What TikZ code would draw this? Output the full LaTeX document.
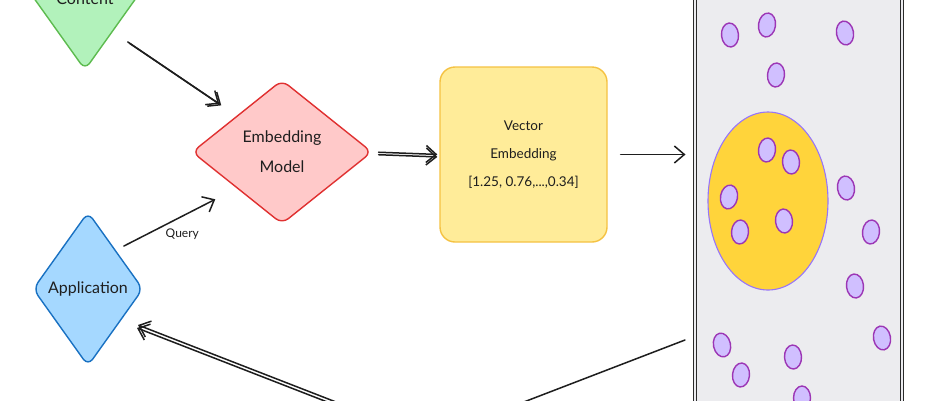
\documentclass[tikz,border=0pt]{standalone}
\usepackage{fontspec}
\setmainfont{Lato}
\usetikzlibrary{shapes.geometric,arrows.meta,calc}
\definecolor{ink}{HTML}{1E1E1E}
\definecolor{greenf}{HTML}{B2F2BB}
\definecolor{greens}{HTML}{5DBB4F}
\definecolor{redf}{HTML}{FFC9C9}
\definecolor{reds}{HTML}{E03131}
\definecolor{bluef}{HTML}{A5D8FF}
\definecolor{blues}{HTML}{1971C2}
\definecolor{yelf}{HTML}{FFEC99}
\definecolor{yels}{HTML}{F5C242}
\definecolor{dbf}{HTML}{ECECEF}
\definecolor{dbs}{HTML}{2A2A2A}
\definecolor{circf}{HTML}{FFD43B}
\definecolor{circs}{HTML}{9775FA}
\definecolor{blobf}{HTML}{D0BFFF}
\definecolor{blobs}{HTML}{9C36B5}
\begin{document}
\begin{tikzpicture}[x=1pt,y=-1pt,
  diam/.style={diamond,line width=1.4pt,rounded corners=8pt,inner sep=0pt,align=center,text=ink,
    font=\fontsize{16}{30}\selectfont},
  vbox/.style={rectangle,line width=1.4pt,rounded corners=15pt,inner sep=0pt,align=center,text=ink,
    font=\fontsize{13.5}{28}\selectfont},
  arr/.style={draw=ink,line width=1.5pt,line cap=round,line join=round,-{Straight Barb[length=10pt,width=17pt]}},
  seg/.style={draw=ink,line width=1.5pt,line cap=round,line join=round},
  blob/.style={fill=blobf,draw=blobs,line width=1.4pt},
  lbl/.style={text=ink,font=\fontsize{12}{14}\selectfont}]
\useasboundingbox (0,0) rectangle (940,400);
\clip (0,0) rectangle (940,400);
\fill[white] (0,0) rectangle (940,400);

% nodes
\node[diam,fill=greenf,draw=greens,minimum width=110pt,minimum height=154pt] (content) at (85,-7) {\smash{\raisebox{-11pt}{Content}}};
\node[diam,fill=redf,draw=reds,minimum width=180pt,minimum height=144pt] (embed) at (282,152) {Embedding\\Model};
\node[diam,fill=bluef,draw=blues,minimum width=110pt,minimum height=154pt] (app) at (88,289) {Application};
\node[vbox,fill=yelf,draw=yels,minimum width=167pt,minimum height=175pt] (vector) at (523.5,154.5)
  {Vector\\Embedding\\{}[1.25, 0.76,...,0.34]};
\node[rectangle,fill=dbf,draw=dbs,line width=1pt,double=dbf,double distance=1.6pt,
  minimum width=207pt,minimum height=440pt,inner sep=0pt] (db) at (798.5,205) {};

% similarity region
\fill[circf] (768,201) ellipse [x radius=60, y radius=89];
\draw[circs,line width=1.1pt] (768,201) ellipse [x radius=60, y radius=89];

% vectors (points)
\foreach \px/\py/\r in {730/35/5,767/25/-8,845/33/10,776/75/-5,767/150/-6,791/162/4,729/197/-10,
  784/221/5,740/232/-4,846/188/8,871/232/-6,855/286/6,882/338/10,722/345/12,741/375/-5,793/357/3,802/398/0}
  \draw[blob,rotate around={\r:(\px,\py)}] (\px,\py) ellipse [x radius=8.5, y radius=12];

% connectors
\draw[arr,shorten <=18pt,shorten >=21pt] (content.south east) -- (embed.north west);
\draw[arr,shorten <=18pt,shorten >=21pt,transform canvas={xshift=2pt,yshift=-1.5pt}] (content.south east) -- (embed.north west);

\draw[arr,shorten <=9pt,shorten >=24pt] (app.north east) -- node[lbl,pos=0.55,below=9pt] {Query} (embed.south west);

\draw[arr,shorten <=6pt,shorten >=2pt] (embed.east) -- (vector.west);
\draw[arr,shorten <=6pt,shorten >=2pt,transform canvas={yshift=-2.5pt}] (embed.east) -- (vector.west);

\draw[arr,shorten <=13pt,shorten >=9pt] (vector.east) -- (vector.east -| db.west);

\coordinate (dbout) at (685,340);
\coordinate (bend) at (425,440);
\coordinate (appin) at (137,328);
\draw[seg] (dbout) -- (bend);
\draw[arr] (bend) -- (appin);
\draw[arr,transform canvas={xshift=1pt,yshift=3pt}] (bend) -- (appin);
\end{tikzpicture}
\end{document}
